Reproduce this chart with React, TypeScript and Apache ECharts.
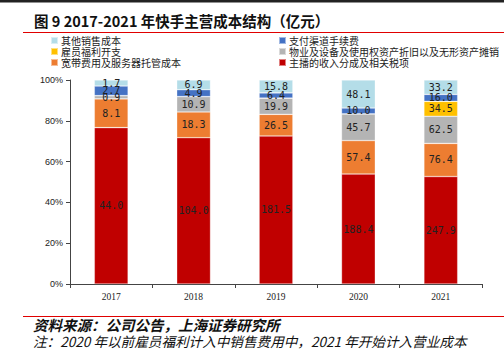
import React, { useEffect, useRef } from "react";
import * as echarts from "echarts";

const years = ["2017", "2018", "2019", "2020", "2021"];
const anchorIncome = [44.0, 104.0, 181.5, 188.4, 247.9];
const bandwidth = [8.1, 18.3, 26.5, 57.4, 76.4];
const depreciation = [0.9, 10.9, 19.9, 45.7, 62.5];
const employee = [0, 0, 0, 0, 34.5];
const payment = [2.7, 4.9, 6.4, 10.0, 16.0];
const otherSales = [1.7, 6.9, 15.8, 48.1, 33.2];
const yTicks = [0, 20, 40, 60, 80, 100];

const seriesDefs = [
  { name: "主播的收入分成及相关税项", data: anchorIncome, color: "#C00000" },
  { name: "宽带费用及服务器托管成本", data: bandwidth, color: "#ED7D31" },
  { name: "物业及设备及使用权资产折旧以及无形资产摊销", data: depreciation, color: "#B4B4B4" },
  { name: "雇员福利开支", data: employee, color: "#FFC000" },
  { name: "支付渠道手续费", data: payment, color: "#4472C4" },
  { name: "其他销售成本", data: otherSales, color: "#B4DDE8" },
];

const CJK = '"Noto Sans CJK SC", sans-serif';

export default function App() {
  const ref = useRef<HTMLDivElement>(null);
  useEffect(() => {
    if (!ref.current) return;
    const chart = echarts.init(ref.current, null, { renderer: "svg" });
    const totals = years.map((_, i) =>
      seriesDefs.reduce((s, d) => s + d.data[i], 0)
    );
    const series = seriesDefs.map((d) => ({
      name: d.name,
      type: "bar",
      stack: "total",
      barWidth: "41%",
      itemStyle: { color: d.color, borderColor: "rgba(255,255,255,0.5)", borderWidth: 0.6 },
      label: {
        show: true,
        position: "inside",
        fontSize: 10,
        color: "#222",
        fontFamily: "DejaVu Sans Mono, monospace",
        formatter: (p: any) => (p.data.raw ? p.data.raw.toFixed(1) : ""),
      },
      data: d.data.map((v, i) =>
        v ? { value: (v / totals[i]) * 100, raw: v } : { value: 0, raw: 0 }
      ),
    }));
    const legendText = { fontSize: 10, lineHeight: 11, color: "#222", fontFamily: CJK, padding: [0, 0, 0, -2] };
    chart.setOption({
      animation: false,
      grid: { left: 70, right: 22, top: 80, bottom: 68 },
      legend: [
        {
          data: ["其他销售成本", "雇员福利开支", "宽带费用及服务器托管成本"],
          left: 45,
          top: 30,
          orient: "vertical",
          itemWidth: 7,
          itemHeight: 7,
          itemGap: 0,
          icon: "rect",
          selectedMode: false,
          textStyle: legendText,
        },
        {
          data: ["支付渠道手续费", "物业及设备及使用权资产折旧以及无形资产摊销", "主播的收入分成及相关税项"],
          left: 273,
          top: 30,
          orient: "vertical",
          itemWidth: 7,
          itemHeight: 7,
          itemGap: 0,
          icon: "rect",
          selectedMode: false,
          textStyle: legendText,
        },
      ],
      xAxis: {
        type: "category",
        data: years,
        axisLine: { lineStyle: { color: "#444", width: 1 } },
        axisTick: { show: true, length: 4, inside: false, alignWithLabel: false, lineStyle: { color: "#444" } },
        axisLabel: { fontSize: 9.5, color: "#222", fontFamily: '"Liberation Serif", serif', margin: 8 },
      },
      yAxis: {
        type: "value",
        min: 0,
        max: 100,
        interval: 20,
        axisLine: { show: true, lineStyle: { color: "#444", width: 1 } },
        axisTick: { show: true, length: 4, lineStyle: { color: "#444" } },
        splitLine: { show: false },
        axisLabel: {
          fontSize: 9,
          color: "#222",
          fontFamily: '"Liberation Sans Narrow", "Liberation Sans", sans-serif',
          margin: 7,
          formatter: (v: number) => (yTicks.includes(v) ? v + "%" : ""),
        },
      },
      graphic: [
        { type: "rect", shape: { x: 0, y: 0, width: 504, height: 2.5 }, style: { fill: "#222" } },
        {
          type: "text",
          left: 34,
          top: 13,
          style: {
            text: "图 9 2017-2021 年快手主营成本结构（亿元）",
            fontSize: 14.5,
            fontWeight: "bold",
            fill: "#111",
            fontFamily: CJK,
          },
        },
        { type: "line", shape: { x1: 23, y1: 32.5, x2: 504, y2: 32.5 }, style: { stroke: "#E00000", lineWidth: 1 } },
        { type: "line", shape: { x1: 23, y1: 316.5, x2: 504, y2: 316.5 }, style: { stroke: "#E00000", lineWidth: 1 } },
        {
          type: "text",
          left: 33,
          top: 317,
          style: {
            text: "资料来源：公司公告，上海证券研究所",
            fontSize: 14.5,
            fontWeight: "bold",
            fontStyle: "italic",
            fill: "#111",
            fontFamily: CJK,
          },
        },
        {
          type: "text",
          left: 33,
          top: 334,
          style: {
            text: "注：2020 年以前雇员福利计入中销售费用中，2021 年开始计入营业成本",
            fontSize: 13.6,
            fontStyle: "italic",
            fill: "#111",
            fontFamily: CJK,
          },
        },
      ],
      series,
    });
    return () => chart.dispose();
  }, []);
  return <div ref={ref} style={{ width: 504, height: 352, position: "absolute", left: 0, top: 0 }} />;
}
